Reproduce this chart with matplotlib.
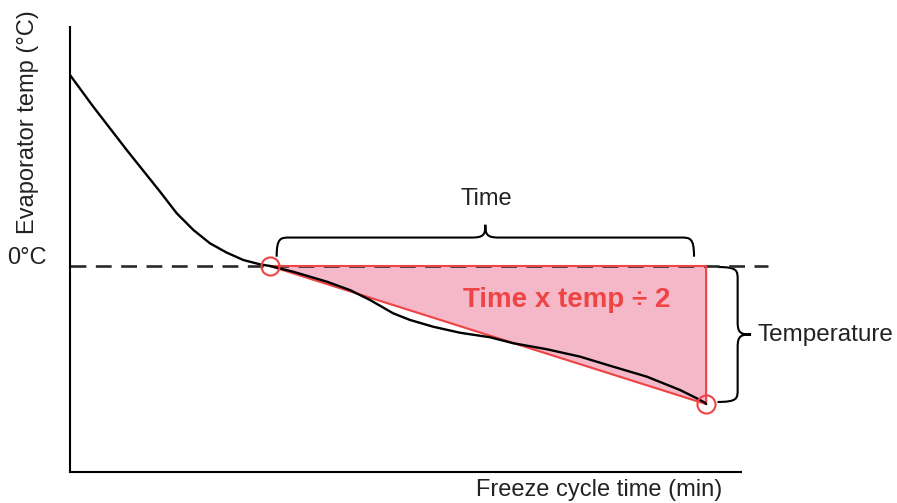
import numpy as np
import matplotlib.pyplot as plt
from matplotlib.path import Path
from matplotlib.patches import PathPatch

plt.rcParams['font.family'] = ['Liberation Sans', 'DejaVu Sans']

# evaporator temperature curve (x in min, y in deg C, arbitrary units)
time_pts = [0.0, 0.347, 0.845, 1.341, 1.59, 1.838, 2.086, 2.335, 2.583, 2.832,
            2.98, 3.328, 3.826, 4.173, 4.471, 4.818, 5.067, 5.414, 5.812, 6.259,
            6.607, 7.104, 7.601, 8.097, 8.595, 9.091, 9.34, 9.464, 9.48]
temp_pts = [9.27, 7.73, 5.63, 3.61, 2.56, 1.75, 1.10, 0.65, 0.29, 0.08,
            0.0, -0.28, -0.76, -1.17, -1.65, -2.30, -2.62, -2.95, -3.24, -3.46,
            -3.75, -4.04, -4.40, -4.89, -5.37, -6.02, -6.42, -6.64, -6.7]

t_start = 2.98   # curve reaches 0 deg C
t_end = 9.48     # end of freeze cycle
temp_end = -6.7

red = '#ef4444'
pink = '#f5b8c9'

fig = plt.figure(figsize=(8.97, 5.03), dpi=100)
ax = fig.add_axes([70 / 897, 31 / 503, 671 / 897, 445 / 503])
ax.set_xlim(0, 10)
ax.set_ylim(-10, 11.6)
for s in ['top', 'right']:
    ax.spines[s].set_visible(False)
for s in ['left', 'bottom']:
    ax.spines[s].set_linewidth(1.5)
ax.set_xticks([])
ax.set_yticks([])

# 0 deg C reference line
ax.plot([0, 10.4], [0, 0], ls=(0, (6, 3.6)), color='#2a2a2a', lw=1.9, clip_on=False, zorder=2)

# triangle approximation
tri_x = [t_start, t_end, t_end, t_start]
tri_y = [0, 0, temp_end, 0]
ax.fill(tri_x, tri_y, color=pink, zorder=1)
ax.plot(tri_x, tri_y, color=red, lw=1.5, zorder=3)

ax.plot(time_pts, temp_pts, color='black', lw=1.7, zorder=4, solid_capstyle='round',
        solid_joinstyle='round')

ax.plot([t_start, t_end], [0, temp_end], 'o', ms=13, mfc='none', mec=red, mew=1.5,
        zorder=5, clip_on=False)


def brace_h(x0, x1, yb, h):
    # horizontal curly brace opening downward
    xm = (x0 + x1) / 2
    r = 0.2
    verts = [(x0, yb), (x0, yb + h * 0.6), (x0 + r * 0.3, yb + h * 0.6), (x0 + r, yb + h * 0.6),
             (xm - r, yb + h * 0.6), (xm - r * 0.1, yb + h * 0.6), (xm, yb + h * 0.7), (xm, yb + h),
             (xm, yb + h * 0.7), (xm + r * 0.1, yb + h * 0.6), (xm + r, yb + h * 0.6),
             (x1 - r, yb + h * 0.6), (x1 - r * 0.3, yb + h * 0.6), (x1, yb + h * 0.6), (x1, yb)]
    codes = [Path.MOVETO, Path.CURVE4, Path.CURVE4, Path.CURVE4,
             Path.LINETO, Path.CURVE4, Path.CURVE4, Path.CURVE4,
             Path.CURVE4, Path.CURVE4, Path.CURVE4,
             Path.LINETO, Path.CURVE4, Path.CURVE4, Path.CURVE4]
    ax.add_patch(PathPatch(Path(verts, codes), fc='none', ec='black', lw=1.5, clip_on=False))


def brace_v(xb, y0, y1, w):
    # vertical curly brace opening left
    ym = (y0 + y1) / 2
    r = 0.6
    xl = xb + w * 0.6
    verts = [(xb, y0), (xl, y0), (xl, y0 - r * 0.3), (xl, y0 - r),
             (xl, ym + r), (xl, ym + r * 0.1), (xb + w * 0.7, ym), (xb + w, ym),
             (xb + w * 0.7, ym), (xl, ym - r * 0.1), (xl, ym - r),
             (xl, y1 + r), (xl, y1 + r * 0.3), (xl, y1), (xb, y1)]
    codes = [Path.MOVETO, Path.CURVE4, Path.CURVE4, Path.CURVE4,
             Path.LINETO, Path.CURVE4, Path.CURVE4, Path.CURVE4,
             Path.CURVE4, Path.CURVE4, Path.CURVE4,
             Path.LINETO, Path.CURVE4, Path.CURVE4, Path.CURVE4]
    ax.add_patch(PathPatch(Path(verts, codes), fc='none', ec='black', lw=1.5, clip_on=False))


brace_h(t_start + 0.1, t_end - 0.18, 0.45, 1.55)
brace_v(t_end + 0.17, -0.05, temp_end + 0.1, 0.5)

ax.text((t_start + t_end) / 2 - 0.02, 3.25, 'Time', ha='center', va='center', fontsize=17, color='#222222')
ax.text(t_end + 0.76, (0 + temp_end) / 2 - 0.02, 'Temperature', ha='left', va='center',
        fontsize=17.5, color='#222222', clip_on=False)
ax.text(7.4, -1.65, 'Time x temp ÷ 2', ha='center', va='center', fontsize=20,
        fontweight='bold', color=red)

fig.text(7 / 897, 1 - 258 / 503, '0°C', ha='left', va='center', fontsize=17, color='#222222')
fig.text(28 / 897, 1 - 122 / 503, 'Evaporator temp (°C)', rotation=90, ha='center', va='center',
         fontsize=17, color='#222222')
fig.text(599 / 897, 1 - 490 / 503, 'Freeze cycle time (min)', ha='center', va='center',
         fontsize=17, color='#222222')

fig.savefig('out.png', dpi=100)
